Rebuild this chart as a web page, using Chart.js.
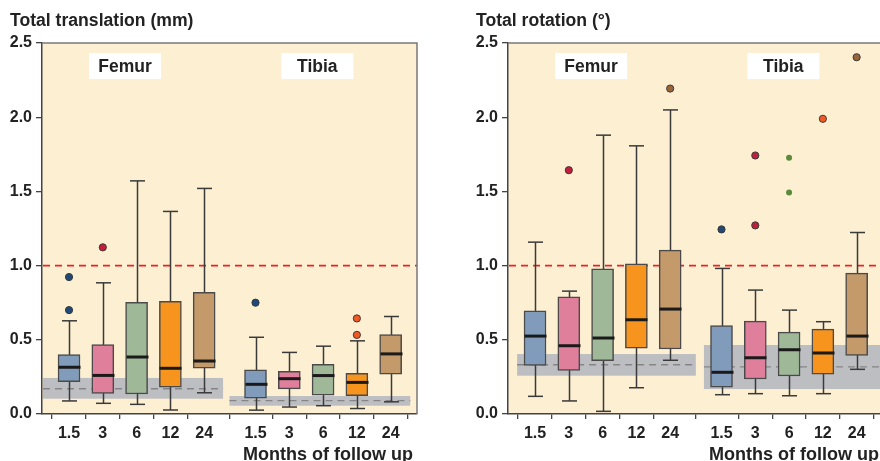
<!DOCTYPE html>
<html><head><meta charset="utf-8">
<script src="https://cdn.jsdelivr.net/npm/chart.js@4/dist/chart.umd.min.js"></script>
<style>
html,body{margin:0;padding:0;background:#fff;width:880px;height:461px;overflow:hidden;position:relative}
#c1{position:absolute;left:0;top:0}
#c2{position:absolute;left:440px;top:0}
</style></head><body>
<canvas id="c1" width="440" height="461"></canvas>
<canvas id="c2" width="466" height="461"></canvas>
<script>
// ---------- data ----------
const months = ['1.5', '3', '6', '12', '24'];
const groupNames = ['Femur', 'Tibia'];
const yTickValues = [0, 0.5, 1.0, 1.5, 2.0, 2.5];
const thresholdValue = 1.0;
const xAxisTitle = 'Months of follow up';

// Total translation (mm)
const transFemurMin = [0.088, 0.072, 0.065, 0.027, 0.143];
const transFemurQ1  = [0.218, 0.139, 0.135, 0.180, 0.308];
const transFemurMed = [0.315, 0.260, 0.384, 0.308, 0.357];
const transFemurQ3  = [0.400, 0.467, 0.752, 0.759, 0.820];
const transFemurMax = [0.628, 0.884, 1.571, 1.365, 1.520];
const transFemurOut = [[0.923, 0.700], [1.123], [], [], []];
const transTibiaMin = [0.026, 0.047, 0.056, 0.037, 0.082];
const transTibiaQ1  = [0.106, 0.169, 0.127, 0.123, 0.269];
const transTibiaMed = [0.200, 0.238, 0.259, 0.213, 0.405];
const transTibiaQ3  = [0.297, 0.287, 0.335, 0.274, 0.536];
const transTibiaMax = [0.517, 0.415, 0.457, 0.493, 0.657];
const transTibiaOut = [[0.750], [], [], [0.644, 0.533], []];
const transFemurBand = [0.103, 0.170, 0.243];   // low, mean, high
const transTibiaBand = [0.056, 0.090, 0.121];

// Total rotation (°)
const rotFemurMin = [0.119, 0.088, 0.018, 0.177, 0.362];
const rotFemurQ1  = [0.328, 0.294, 0.359, 0.444, 0.438];
const rotFemurMed = [0.525, 0.460, 0.512, 0.635, 0.707];
const rotFemurQ3  = [0.696, 0.790, 0.978, 1.012, 1.104];
const rotFemurMax = [1.158, 0.828, 1.879, 1.807, 2.049];
const rotFemurOut = [[], [1.643], [], [], [2.193]];
const rotTibiaMin = [0.130, 0.137, 0.123, 0.137, 0.301];
const rotTibiaQ1  = [0.180, 0.236, 0.256, 0.269, 0.395];
const rotTibiaMed = [0.281, 0.379, 0.433, 0.411, 0.525];
const rotTibiaQ3  = [0.595, 0.626, 0.552, 0.572, 0.949];
const rotTibiaMax = [0.981, 0.835, 0.700, 0.622, 1.223];
const rotTibiaOut = [[1.244], [1.742, 1.271], [1.726, 1.493], [1.989], [2.404]];
const rotFemurBand = [0.258, 0.332, 0.404];
const rotTibiaBand = [0.168, 0.318, 0.465];

// ---------- styling ----------
const FONT = '"Liberation Sans", Arial, Helvetica, sans-serif';
const boxColors = ['#819cba', '#e07f9b', '#9fb898', '#f7941d', '#c49a6a'];
const outColors = ['#1d4a78', '#c41e3a', '#5a8a3a', '#f15a24', '#98663a'];
const groupStart = [0.8, 6.32];   // x position (in box-spacing units) of the first box of each group
const X_MAX = 11.1;

function buildPanel(cfg) {
  const groups = [cfg.femur, cfg.tibia];
  const boxes = [], boxBg = [];
  const outs = [], outBg = [], outBorder = [], outR = [], outBW = [];
  const stats = [];
  groups.forEach((g, gi) => {
    months.forEach((m, i) => {
      const pos = groupStart[gi] + i;
      boxes.push({x: pos, y: [g.q1[i], g.q3[i]]});
      boxBg.push(boxColors[i]);
      stats.push({x: pos, min: g.min[i], med: g.med[i], max: g.max[i]});
      g.out[i].forEach(v => {
        outs.push({x: pos, y: v});
        outBg.push(outColors[i]);
        const plain = (i === 2);
        outBorder.push(plain ? outColors[i] : '#3a3a3a');
        outR.push(plain ? 3 : 3.6);
        outBW.push(plain ? 0 : 1);
      });
    });
  });
  const tickPositions = [];
  groupStart.forEach(s => months.forEach((m, i) => tickPositions.push(s + i)));

  const extras = {
    id: 'boxExtras',
    beforeDraw(chart) {
      const {ctx, chartArea: a} = chart;
      ctx.save();
      ctx.fillStyle = '#fdefd2';
      ctx.fillRect(a.left, a.top, a.width, a.height);
      ctx.restore();
    },
    beforeDatasetsDraw(chart) {
      const {ctx, chartArea: a, scales: {x, y}} = chart;
      ctx.save();
      [cfg.femurBand, cfg.tibiaBand].forEach((b, gi) => {
        const bx = cfg.bandX[gi];
        const px0 = Math.max(a.left + 1, x.getPixelForValue(bx[0]));
        const px1 = Math.min(a.right, x.getPixelForValue(bx[1]));
        const yt = y.getPixelForValue(b[2]), yb = y.getPixelForValue(b[0]);
        ctx.fillStyle = '#bdbec2';
        ctx.fillRect(px0, yt, px1 - px0, yb - yt);
        const ym = y.getPixelForValue(b[1]);
        ctx.strokeStyle = '#858585';
        ctx.lineWidth = 1.3;
        ctx.setLineDash([7, 5]);
        ctx.beginPath(); ctx.moveTo(px0, ym); ctx.lineTo(px1, ym); ctx.stroke();
      });
      // threshold
      const yr = y.getPixelForValue(thresholdValue);
      ctx.strokeStyle = '#ec2226';
      ctx.lineWidth = 1.6;
      ctx.setLineDash([7, 5]);
      ctx.beginPath(); ctx.moveTo(a.left + 1, yr); ctx.lineTo(a.right, yr); ctx.stroke();
      ctx.setLineDash([]);
      // whiskers
      ctx.strokeStyle = '#3a3a3a';
      ctx.lineWidth = 1.5;
      stats.forEach(s => {
        const px = Math.round(x.getPixelForValue(s.x)) + 0.5;
        const y0 = y.getPixelForValue(s.min), y1 = y.getPixelForValue(s.max);
        ctx.beginPath(); ctx.moveTo(px, y0); ctx.lineTo(px, y1); ctx.stroke();
        [y0, y1].forEach(yy => {
          ctx.beginPath(); ctx.moveTo(px - 7.5, yy); ctx.lineTo(px + 7.5, yy); ctx.stroke();
        });
      });
      ctx.restore();
    },
    afterDatasetsDraw(chart) {
      const {ctx, chartArea: a, scales: {x, y}} = chart;
      ctx.save();
      ctx.strokeStyle = '#1a1a1a';
      ctx.lineWidth = 3;
      stats.forEach(s => {
        const px = Math.round(x.getPixelForValue(s.x)) + 0.5;
        const ym = y.getPixelForValue(s.med);
        ctx.beginPath(); ctx.moveTo(px - 11, ym); ctx.lineTo(px + 11, ym); ctx.stroke();
      });
      // top / right frame
      ctx.strokeStyle = '#7a7a7a';
      ctx.lineWidth = 1.5;
      ctx.beginPath(); ctx.moveTo(a.left, a.top); ctx.lineTo(a.right, a.top); ctx.lineTo(a.right, a.bottom); ctx.stroke();
      // group labels
      ctx.font = 'bold 17.5px ' + FONT;
      ctx.textAlign = 'center';
      ctx.textBaseline = 'middle';
      groupNames.forEach((name, gi) => {
        const cx = x.getPixelForValue(cfg.labelX[gi]);
        ctx.fillStyle = '#ffffff';
        ctx.fillRect(cx - 36, a.top + 10, 72, 26);
        ctx.fillStyle = '#222222';
        ctx.fillText(name, cx, a.top + 24);
      });
      ctx.restore();
    },
    afterDraw(chart) {
      const {ctx, chartArea: a} = chart;
      ctx.save();
      ctx.font = 'bold 17.6px ' + FONT;
      ctx.fillStyle = '#222222';
      ctx.textAlign = 'left';
      ctx.textBaseline = 'alphabetic';
      ctx.fillText(cfg.title, cfg.titleX, 26);
      ctx.font = 'bold 18px ' + FONT;
      ctx.textAlign = 'right';
      ctx.fillText(xAxisTitle, a.right - 4, 459.5);
      ctx.restore();
    }
  };

  return new Chart(document.getElementById(cfg.canvas), {
    type: 'bar',
    data: {
      datasets: [
        {
          type: 'scatter', data: outs, order: 0,
          pointBackgroundColor: outBg, pointBorderColor: outBorder,
          pointRadius: outR, pointBorderWidth: outBW
        },
        {
          type: 'bar', data: boxes, order: 1,
          backgroundColor: boxBg, borderColor: '#4a4a4a', borderWidth: 1.5,
          borderSkipped: false, barThickness: 22, grouped: false
        }
      ]
    },
    options: {
      responsive: false,
      animation: false,
      events: [],
      layout: {padding: {top: 43, right: cfg.padRight, left: 0, bottom: 0}},
      plugins: {legend: {display: false}, tooltip: {enabled: false}, title: {display: false}},
      scales: {
        x: {
          type: 'linear', min: 0, max: X_MAX, offset: false,
          afterBuildTicks: s => { s.ticks = tickPositions.map(v => ({value: v})); },
          afterFit: s => { s.height = 47; },
          ticks: {
            autoSkip: false, maxRotation: 0, color: '#222', padding: 5,
            font: {family: FONT, size: 16, weight: 'bold'},
            callback: (v, i) => months[i % months.length]
          },
          grid: {display: true, drawOnChartArea: false, drawTicks: true, tickLength: 5, color: '#444', lineWidth: 1.3},
          border: {display: true, color: '#444', width: 1.5},
          title: {display: false}
        },
        y: {
          type: 'linear', min: 0, max: 2.5,
          afterBuildTicks: s => { s.ticks = yTickValues.map(v => ({value: v})); },
          afterFit: s => { s.width = cfg.yWidth; },
          ticks: {
            color: '#222', padding: 4,
            font: {family: FONT, size: 16, weight: 'bold'},
            callback: v => Number(v).toFixed(1)
          },
          grid: {display: true, drawOnChartArea: false, drawTicks: true, tickLength: 6, color: '#444', lineWidth: 1.3},
          border: {display: true, color: '#444', width: 1.5}
        }
      }
    },
    plugins: [extras]
  });
}

buildPanel({
  canvas: 'c1', title: 'Total translation (mm)', titleX: 10, yWidth: 42, padRight: 23,
  femur: {min: transFemurMin, q1: transFemurQ1, med: transFemurMed, q3: transFemurQ3, max: transFemurMax, out: transFemurOut},
  tibia: {min: transTibiaMin, q1: transTibiaQ1, med: transTibiaMed, q3: transTibiaQ3, max: transTibiaMax, out: transTibiaOut},
  femurBand: transFemurBand, tibiaBand: transTibiaBand,
  bandX: [[0, 5.36], [5.55, 10.9]], labelX: [2.46, 8.15]
});
buildPanel({
  canvas: 'c2', title: 'Total rotation (°)', titleX: 36, yWidth: 68, padRight: 23,
  femur: {min: rotFemurMin, q1: rotFemurQ1, med: rotFemurMed, q3: rotFemurQ3, max: rotFemurMax, out: rotFemurOut},
  tibia: {min: rotTibiaMin, q1: rotTibiaQ1, med: rotTibiaMed, q3: rotTibiaQ3, max: rotTibiaMax, out: rotTibiaOut},
  femurBand: rotFemurBand, tibiaBand: rotTibiaBand,
  bandX: [[0.27, 5.56], [5.8, 11.1]], labelX: [2.46, 8.15]
});
</script>
</body></html>
